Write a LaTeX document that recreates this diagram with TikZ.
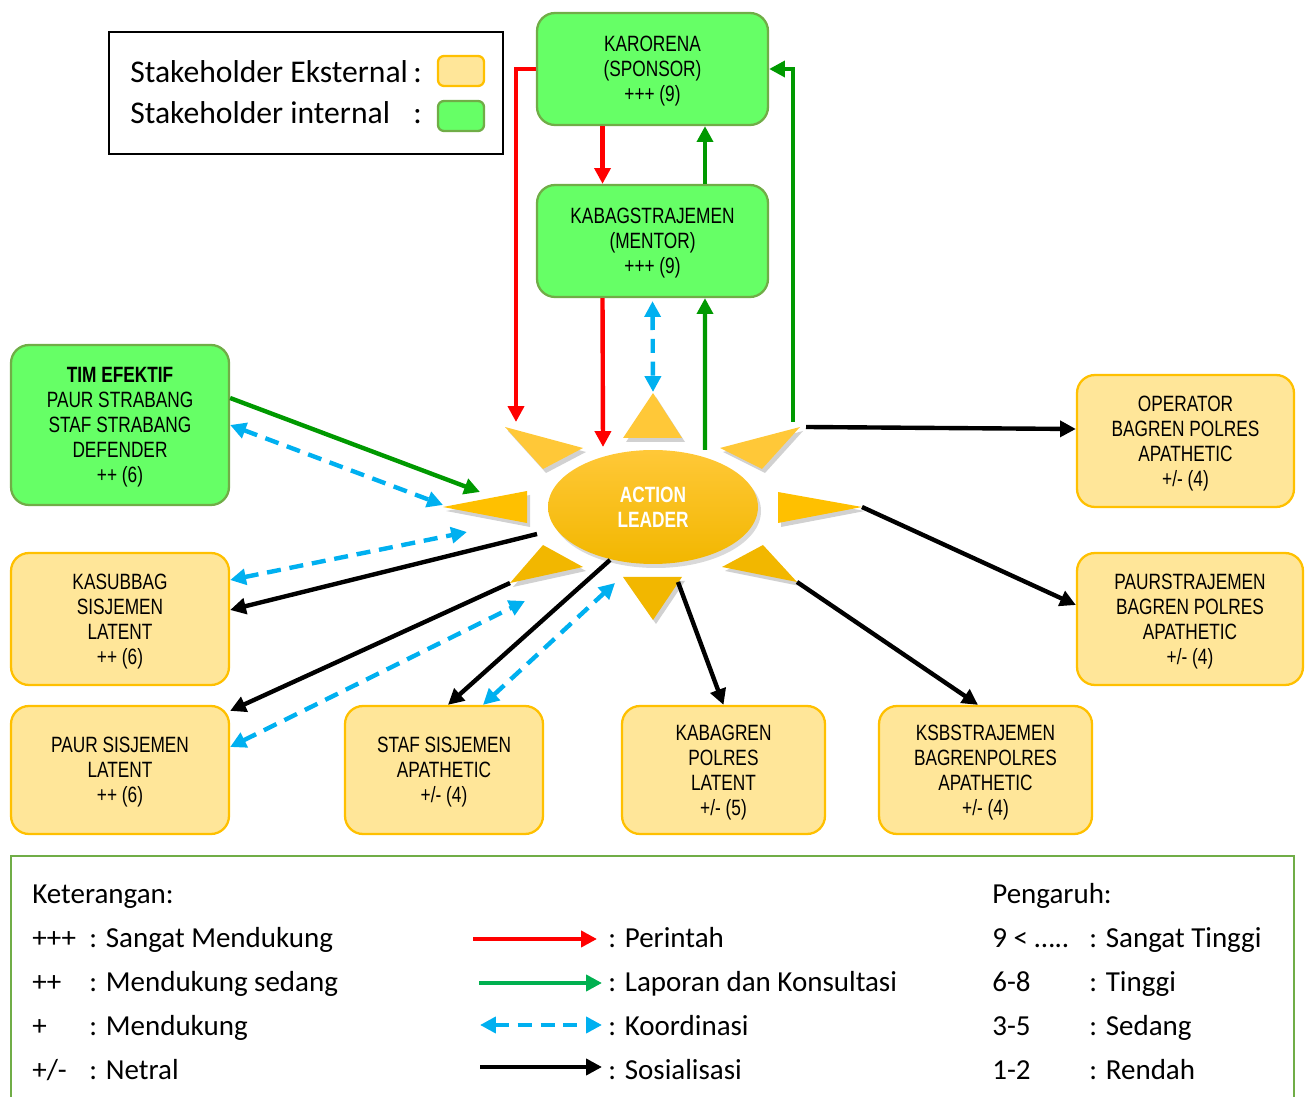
\documentclass[tikz,border=0pt]{standalone}
\usepackage{fontspec}
\setmainfont{Carlito}
\newfontfamily\boxfont{Liberation Sans}[FakeStretch=0.78]
\usepackage{xcolor}
\usetikzlibrary{arrows.meta,shapes.geometric}

\definecolor{intgreen}{HTML}{66FF66}
\definecolor{intborder}{HTML}{70AD47}
\definecolor{extyellow}{HTML}{FFE699}
\definecolor{extborder}{HTML}{FFC000}
\definecolor{sungold}{HTML}{FFC000}
\definecolor{sunlight}{HTML}{FFC838}
\definecolor{sundark}{HTML}{F2B700}
\definecolor{cmdred}{HTML}{FF0000}
\definecolor{rptgreen}{HTML}{009900}
\definecolor{lgdgreen}{HTML}{00B050}
\definecolor{crdblue}{HTML}{00B0F0}

\tikzset{
	stake/.style={rounded corners=0.36cm, line width=1.3pt, align=center, inner sep=0pt, text depth=0pt,
		font=\boxfont\fontsize{12.6}{14.2}\selectfont},
	internal/.style={stake, draw=intborder, fill=intgreen},
	external/.style={stake, draw=extborder, fill=extyellow},
	tip/.style={-{Triangle[length=9pt,width=9pt]}},
	perintah/.style={draw=cmdred, line width=2.5pt, tip},
	laporan/.style={draw=rptgreen, line width=2.5pt, tip},
	koordinasi/.style={draw=crdblue, line width=2.5pt, dash pattern=on 8pt off 5pt,
		{Triangle[length=9pt,width=9pt]}-{Triangle[length=9pt,width=9pt]}},
	sosialisasi/.style={draw=black, line width=2.5pt, tip},
	legendtext/.style={anchor=base west, inner sep=0pt, font=\fontsize{16.5}{18}\selectfont},
	rayshadow/.style={fill=black, opacity=0.18}
}

\begin{document}
\begin{tikzpicture}[x=0.02cm, y=-0.02cm]
	\useasboundingbox (0,0) rectangle (1306,1097);

	% legend of stakeholders
	\node[draw, line width=1.2pt, minimum width=7.88cm, minimum height=2.44cm] (legend) at (306,93) {};
	\node[legendtext, font=\fontsize{18}{19}\selectfont] (ekst) at (130,83) {Stakeholder Eksternal};
	\node[legendtext, font=\fontsize{18}{19}\selectfont] (inte) at (130,124) {Stakeholder internal};
	\node[legendtext, font=\fontsize{18}{19}\selectfont] at (413,83) {:};
	\node[legendtext, font=\fontsize{18}{19}\selectfont] at (413,124) {:};
	\node[external, rounded corners=0.12cm, minimum width=0.92cm, minimum height=0.6cm] (swext) at (461,71) {};
	\node[internal, rounded corners=0.12cm, minimum width=0.92cm, minimum height=0.6cm] (swint) at (461,116) {};

	% stakeholders
	\node[internal, minimum width=4.62cm, minimum height=2.24cm] (karorena) at (652.5,69) {KARORENA\\(SPONSOR)\\+++ (9)};
	\node[internal, minimum width=4.62cm, minimum height=2.24cm] (kabag) at (652.5,241) {KABAGSTRAJEMEN\\(MENTOR)\\+++ (9)};
	\node[internal, minimum width=4.36cm, minimum height=3.2cm] (tim) at (120,425) {\textbf{TIM EFEKTIF}\\PAUR STRABANG\\STAF STRABANG\\DEFENDER\\++ (6)};
	\node[external, minimum width=4.36cm, minimum height=2.64cm] (kasubbag) at (120,619) {KASUBBAG\\SISJEMEN\\LATENT\\++ (6)};
	\node[external, minimum width=4.36cm, minimum height=2.56cm] (paur) at (120,770) {PAUR SISJEMEN\\LATENT\\++ (6)};
	\node[external, minimum width=3.96cm, minimum height=2.56cm] (staf) at (444,770) {STAF SISJEMEN\\APATHETIC\\+/- (4)};
	\node[external, minimum width=4.06cm, minimum height=2.56cm] (kabagren) at (723.5,770) {KABAGREN\\POLRES\\LATENT\\+/- (5)};
	\node[external, minimum width=4.26cm, minimum height=2.56cm] (ksbstra) at (985.5,770) {KSBSTRAJEMEN\\BAGRENPOLRES\\APATHETIC\\+/- (4)};
	\node[external, minimum width=4.34cm, minimum height=2.64cm] (operator) at (1185.5,441) {OPERATOR\\BAGREN POLRES\\APATHETIC\\+/- (4)};
	\node[external, minimum width=4.52cm, minimum height=2.64cm] (paurstra) at (1190,619) {PAURSTRAJEMEN\\BAGREN POLRES\\APATHETIC\\+/- (4)};

	% the sun
	\fill[rayshadow] (656,397) -- (626,442) -- (685,442) -- cycle;
	\fill[rayshadow] (508,431) -- (586,452) -- (546,473) -- cycle;
	\fill[rayshadow] (803,431) -- (723,452) -- (765,473) -- cycle;
	\fill[rayshadow] (446,511) -- (530,495) -- (530,527) -- cycle;
	\fill[rayshadow] (865,511) -- (781,496) -- (781,527) -- cycle;
	\fill[rayshadow] (513,587) -- (546,549) -- (586,571) -- cycle;
	\fill[rayshadow] (626,581) -- (685,581) -- (656,624) -- cycle;
	\fill[rayshadow] (800,586) -- (766,549) -- (725,571) -- cycle;
	\fill[sunlight] (653,393) -- (623,438) -- (682,438) -- cycle;
	\fill[sunlight] (505,427) -- (583,448) -- (543,469) -- cycle;
	\fill[sunlight] (800,427) -- (720,448) -- (762,469) -- cycle;
	\fill[sungold] (443,507) -- (527,491) -- (527,523) -- cycle;
	\fill[sungold] (862,507) -- (778,492) -- (778,523) -- cycle;
	\fill[sundark] (510,583) -- (543,545) -- (583,567) -- cycle;
	\fill[sundark] (623,577) -- (682,577) -- (653,620) -- cycle;
	\fill[sundark] (797,582) -- (763,545) -- (722,567) -- cycle;
	\fill[black, opacity=0.15] (656,511) ellipse [x radius=105, y radius=57];
	\node[ellipse, minimum width=4.2cm, minimum height=2.28cm, inner sep=0pt, top color=sunlight, bottom color=sundark,
		text=white, align=center, font=\boxfont\bfseries\fontsize{12.6}{14.2}\selectfont] (leader) at (653,507) {ACTION\\LEADER};

	% ends at the rays
	\coordinate (aimTL) at (516,422);
	\coordinate (aimT) at (603,447);
	\coordinate (fromT) at (705,450);
	\coordinate (fromTR) at (793,422);
	\coordinate (aimL) at (480,492);
	\coordinate (crdT) at (653,392);
	\coordinate (crdL) at (443,505);
	\coordinate (crdLL) at (467,532);
	\coordinate (crdBL) at (525,601);
	\coordinate (crdB) at (615,583);
	\coordinate (sosL) at (537,534);
	\coordinate (sosBL) at (510,583);
	\coordinate (sosB) at (610,560);
	\coordinate (sosBB) at (678,582);
	\coordinate (sosBR) at (797,582);
	\coordinate (sosR) at (862,507);
	\coordinate (sosTR) at (806,427);

	% perintah
	\draw[perintah, line cap=butt] (karorena.west) -| (aimTL);
	\draw[perintah] ([xshift=-1cm]karorena.south) -- ([xshift=-1cm]kabag.north);
	\draw[perintah] ([xshift=-1cm]kabag.south) -- (aimT);
	% laporan dan konsultasi
	\draw[laporan] (fromT) -- ([xshift=1.05cm]kabag.south);
	\draw[laporan] ([xshift=1.05cm]kabag.north) -- ([xshift=1.05cm]karorena.south);
	\draw[laporan] (fromTR) |- (karorena.east);
	\draw[laporan] ([yshift=0.54cm]tim.east) -- (aimL);
	% koordinasi
	\draw[koordinasi] ([yshift=-0.06cm]kabag.south) -- (crdT);
	\draw[koordinasi] (tim.east) -- (crdL);
	\draw[koordinasi] ([yshift=0.78cm]kasubbag.east) -- (crdLL);
	\draw[koordinasi] ([yshift=0.46cm]paur.east) -- (crdBL);
	\draw[koordinasi] ([xshift=0.78cm]staf.north) -- (crdB);
	% sosialisasi
	\draw[sosialisasi] (sosL) -- ([yshift=0.18cm]kasubbag.east);
	\draw[sosialisasi] (sosBL) -- ([yshift=-0.12cm]paur.north east);
	\draw[sosialisasi] (sosB) -- ([xshift=0.08cm]staf.north);
	\draw[sosialisasi] (sosBB) -- (kabagren.north);
	\draw[sosialisasi] (sosBR) -- ([xshift=-0.15cm]ksbstra.north);
	\draw[sosialisasi] (sosR) -- ([yshift=0.28cm]paurstra.west);
	\draw[sosialisasi] (sosTR) -- ([yshift=0.24cm]operator.west);

	% keterangan
	\draw[intborder, line width=1.3pt] (11,1100) -- (11,856) -- (1294,856) -- (1294,1100);
	\node[legendtext] (ket) at (32,904) {Keterangan:};
	\node[legendtext] at (32,948) {+++};
	\node[legendtext] at (89,948) {: Sangat Mendukung};
	\node[legendtext] at (32,992) {++};
	\node[legendtext] at (89,992) {: Mendukung sedang};
	\node[legendtext] at (32,1036) {+};
	\node[legendtext] at (89,1036) {: Mendukung};
	\node[legendtext] at (32,1079) {+/-};
	\node[legendtext] at (89,1079) {: Netral};

	\coordinate (lgA1) at (473,939); \coordinate (lgA2) at (597,939);
	\coordinate (lgB1) at (479,983); \coordinate (lgB2) at (602,983);
	\coordinate (lgC1) at (480,1025); \coordinate (lgC2) at (602,1025);
	\coordinate (lgD1) at (480,1067); \coordinate (lgD2) at (602,1067);
	\draw[perintah] (lgA1) -- (lgA2);
	\draw[laporan, draw=lgdgreen] (lgB1) -- (lgB2);
	\draw[koordinasi] (lgC1) -- (lgC2);
	\draw[sosialisasi] (lgD1) -- (lgD2);
	\node[legendtext] at (608,948) {: Perintah};
	\node[legendtext] at (608,992) {: Laporan dan Konsultasi};
	\node[legendtext] at (608,1036) {: Koordinasi};
	\node[legendtext] at (608,1079) {: Sosialisasi};

	\node[legendtext] (pengaruh) at (992,904) {Pengaruh:};
	\node[legendtext] at (992,948) {9 < …..};
	\node[legendtext] at (1089,948) {: Sangat Tinggi};
	\node[legendtext] at (992,992) {6-8};
	\node[legendtext] at (1089,992) {: Tinggi};
	\node[legendtext] at (992,1036) {3-5};
	\node[legendtext] at (1089,1036) {: Sedang};
	\node[legendtext] at (992,1079) {1-2};
	\node[legendtext] at (1089,1079) {: Rendah};
\end{tikzpicture}
\end{document}
